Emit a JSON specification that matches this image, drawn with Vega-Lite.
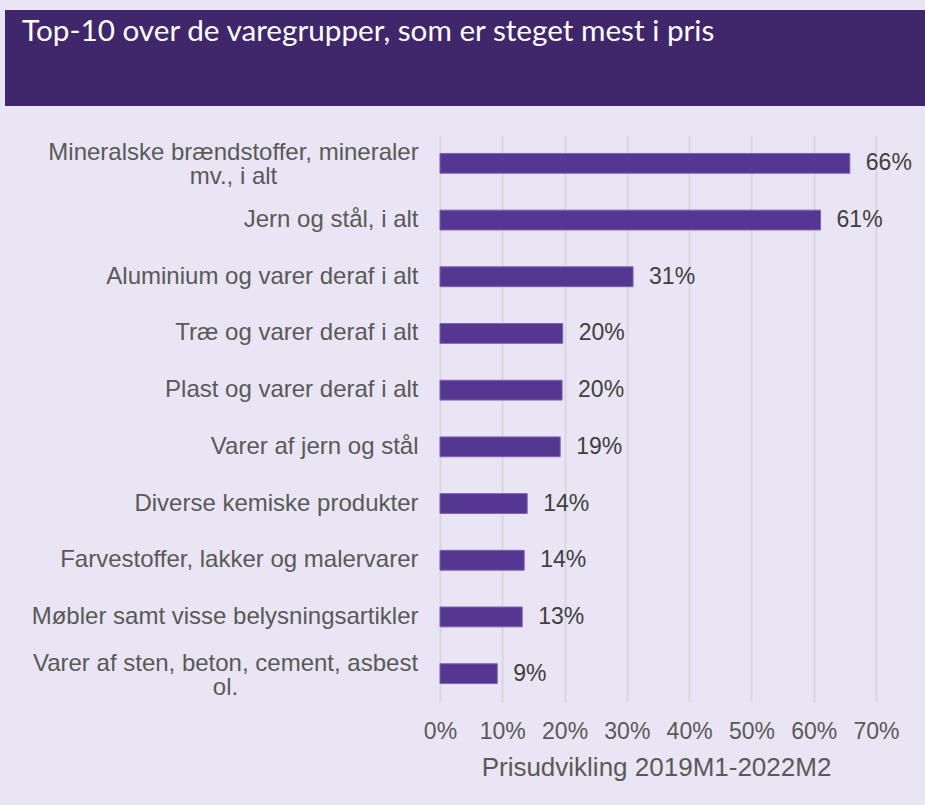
{
  "$schema": "https://vega.github.io/schema/vega-lite/v6.json",
  "background": "#e9e5f4",
  "padding": {"left": 5, "top": 10, "right": 0, "bottom": 25},
  "config": {"font": "Liberation Sans"},
  "datasets": {
    "prices": [
      {"varegruppe": "Mineralske brændstoffer, mineraler mv., i alt", "stigning": 0.658},
      {"varegruppe": "Jern og stål, i alt", "stigning": 0.611},
      {"varegruppe": "Aluminium og varer deraf i alt", "stigning": 0.31},
      {"varegruppe": "Træ og varer deraf i alt", "stigning": 0.197},
      {"varegruppe": "Plast og varer deraf i alt", "stigning": 0.196},
      {"varegruppe": "Varer af jern og stål", "stigning": 0.193},
      {"varegruppe": "Diverse kemiske produkter", "stigning": 0.140},
      {"varegruppe": "Farvestoffer, lakker og malervarer", "stigning": 0.1352},
      {"varegruppe": "Møbler samt visse belysningsartikler", "stigning": 0.132},
      {"varegruppe": "Varer af sten, beton, cement, asbest ol.", "stigning": 0.092}
    ]
  },
  "vconcat": [
    {
      "data": {"values": []},
      "mark": "point",
      "width": 920,
      "height": 96,
      "view": {"fill": "#40276b", "stroke": null},
      "title": {
        "text": "Top-10 over de varegrupper, som er steget mest i pris",
        "orient": "top",
        "anchor": "start",
        "frame": "group",
        "baseline": "top",
        "offset": -38,
        "dx": 17,
        "font": "Lato",
        "fontSize": 29.7,
        "fontWeight": "normal",
        "color": "#ffffff"
      }
    },
    {
      "data": {"name": "prices"},
      "width": 920,
      "height": 567,
      "view": {"stroke": null},
      "encoding": {
        "y": {
          "field": "varegruppe",
          "type": "nominal",
          "sort": null,
          "scale": {"paddingInner": 0.65, "paddingOuter": 0.325},
          "axis": {
            "title": null,
            "domain": false,
            "ticks": false,
            "tickSize": 0,
            "labelFontSize": 24,
            "labelColor": "#595959",
            "labelLimit": 0,
            "labelLineHeight": 24,
            "labelAlign": {"condition": {"test": "indexof(datum.value, 'Mineralske') == 0 || indexof(datum.value, 'Varer af sten') == 0", "value": "center"}, "value": "right"},
            "labelPadding": {"condition": [{"test": "indexof(datum.value, 'Mineralske') == 0", "value": -228}, {"test": "indexof(datum.value, 'Varer af sten') == 0", "value": -220}], "value": -413},
            "labelOffset": {"condition": {"test": "indexof(datum.value, 'Mineralske') == 0 || indexof(datum.value, 'Varer af sten') == 0", "value": -10}, "value": 0},
            "labelExpr": "datum.label == 'Mineralske brændstoffer, mineraler mv., i alt' ? ['Mineralske brændstoffer, mineraler', 'mv., i alt'] : datum.label == 'Varer af sten, beton, cement, asbest ol.' ? ['Varer af sten, beton, cement, asbest', 'ol.'] : datum.label"
          }
        },
        "x": {
          "field": "stigning",
          "type": "quantitative",
          "scale": {"domain": [-0.6984, 0.7787], "nice": false, "zero": false},
          "axis": {
            "title": "Prisudvikling 2019M1-2022M2",
            "values": [0, 0.1, 0.2, 0.3, 0.4, 0.5, 0.6, 0.7],
            "format": ".0%",
            "domain": false,
            "ticks": false,
            "grid": true,
            "gridColor": "#d9d6df",
            "gridWidth": 2,
            "labelOverlap": false,
            "labelBound": false,
            "labelFlush": false,
            "labelFontSize": 23,
            "labelColor": "#595959",
            "labelPadding": 18,
            "titleFontSize": 26,
            "titleFontWeight": "normal",
            "titleColor": "#595959",
            "titlePadding": 11,
            "titleX": 651,
            "titleAnchor": null,
            "titleAlign": "center"
          }
        }
      },
      "layer": [
        {"mark": {"type": "bar", "color": "#553691", "stroke": "#7d63b6", "strokeWidth": 1}},
        {
          "mark": {"type": "text", "align": "left", "dx": 16, "fontSize": 23, "color": "#404040"},
          "encoding": {"text": {"field": "stigning", "type": "quantitative", "format": ".0%"}}
        }
      ]
    }
  ],
  "spacing": 29
}
